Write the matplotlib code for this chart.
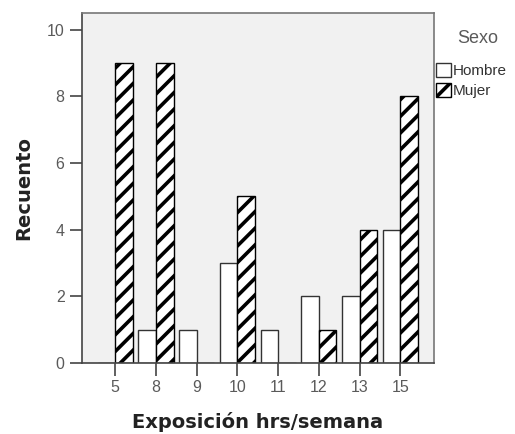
"""Bar chart: Recuento by Exposición hrs/semana, split by Sexo (SPSS style)."""
import matplotlib
matplotlib.use("Agg")
import matplotlib.pyplot as plt
import numpy as np

categories = ["5", "8", "9", "10", "11", "12", "13", "15"]
hombre = [0, 1, 1, 3, 1, 2, 2, 4]
mujer = [9, 9, 0, 5, 0, 1, 4, 8]
yticks = [0, 2, 4, 6, 8, 10]

_GRAY = "#5a5a5a"

plt.rcParams["hatch.linewidth"] = 2.6
plt.rcParams["font.family"] = ["Liberation Sans", "DejaVu Sans"]

fig = plt.figure(figsize=(5.15, 4.34), dpi=100, facecolor="white")
ax = fig.add_axes([0.159, 0.164, 0.684, 0.806])
ax.set_facecolor("#f1f1f1")

x = np.arange(len(categories))
w = 0.43
ax.bar(x - w / 2, hombre, w, color="white", edgecolor="#333333",
       linewidth=1.0, label="Hombre")
ax.bar(x + w / 2, mujer, w, color="white", edgecolor="black",
       linewidth=1.0, hatch="//", label="Mujer")

ax.set_xlim(-0.82, 7.83)
ax.set_ylim(0, 10.5)
ax.set_xticks(x)
ax.set_xticklabels(categories)
ax.set_yticks(yticks)
ax.tick_params(axis="both", colors="#444444", labelcolor=_GRAY,
               labelsize=11.5, length=9, width=1.2)
for s in ax.spines.values():
    s.set_color("#777777")
    s.set_linewidth(1.2)
ax.spines["bottom"].set_color("#444444")
ax.spines["left"].set_color("#444444")

ax.set_ylabel("Recuento", fontsize=14, fontweight="bold", color="#222222",
              family="DejaVu Sans", labelpad=10)
ax.set_xlabel("Exposición hrs/semana", fontsize=14, fontweight="bold",
              color="#222222", family="DejaVu Sans", labelpad=12)

# legend title sits well above the entries, as in SPSS output
fig.text(0.928, 0.912, "Sexo", ha="center", va="center", fontsize=13,
         color=_GRAY)
leg = fig.legend(loc="upper left", bbox_to_anchor=(0.846, 0.855),
                 frameon=False, fontsize=11,
                 handlelength=1.0, handleheight=1.05, handletextpad=0.1,
                 labelspacing=0.3, borderaxespad=0.0, borderpad=0.0)
for t in leg.get_texts():
    t.set_color("#333333")

fig.savefig("out.png", dpi=100, facecolor="white")
